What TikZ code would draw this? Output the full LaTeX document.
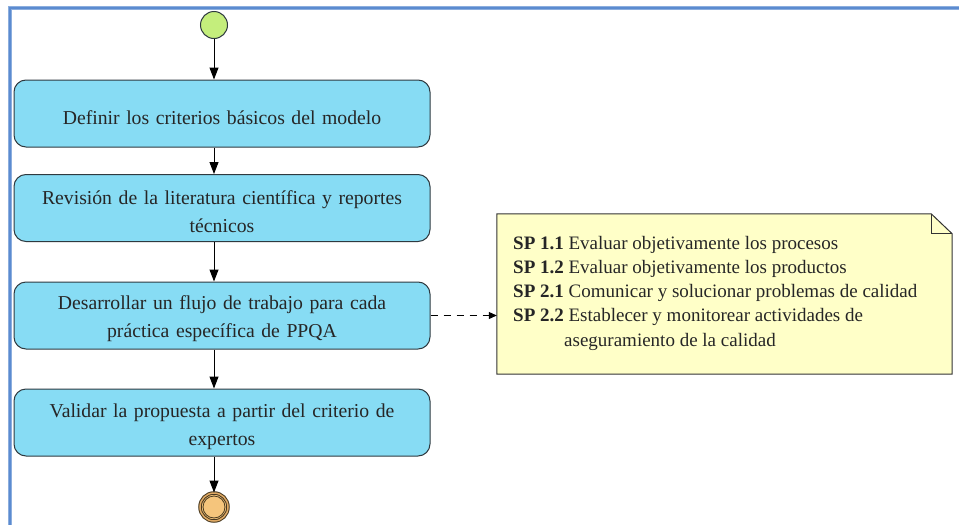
\documentclass[tikz,border=0pt]{standalone}
\usepackage{fontspec}
\setmainfont{Liberation Serif}
\usetikzlibrary{arrows.meta}
\definecolor{frameblue}{HTML}{5B8BD0}
\definecolor{boxfill}{HTML}{87DCF4}
\definecolor{boxline}{HTML}{2F3A40}
\definecolor{startfill}{HTML}{C4EE7C}
\definecolor{endfill}{HTML}{F5C57C}
\definecolor{endline}{HTML}{4A3A20}
\definecolor{notefill}{HTML}{FFFFC8}
\tikzset{
  stepbox/.style={draw=boxline, line width=1pt, fill=boxfill, rounded corners=12pt,
    minimum width=416pt, minimum height=67pt, inner sep=0pt},
  steptext/.style={text width=400pt, align=center, inner sep=0pt,
    font=\fontsize{19.7}{28}\selectfont, text=black!85},
  flow/.style={draw=black, line width=1pt, -{Triangle[length=12pt,width=9pt]}},
  depend/.style={draw=black, line width=1pt, dash pattern=on 7pt off 6pt, -{Triangle[length=8pt,width=7pt]}},
}
\begin{document}
\begin{tikzpicture}[x=1pt,y=-1pt]
\useasboundingbox (0,0) rectangle (959,525);
\draw[frameblue!70, line width=4pt] (10,527) -- (10,8) -- (961,8);
\draw[frameblue, line width=2pt] (10,527) -- (10,8) -- (961,8);

\node[circle, draw=boxline, line width=1pt, fill=startfill, minimum size=27pt, inner sep=0pt] (start) at (214,25) {};
\node[stepbox] (b1) at (222,113.5) {};
\node[stepbox] (b2) at (222,208) {};
\node[stepbox] (b3) at (222,315.5) {};
\node[stepbox] (b4) at (222,422.5) {};
\node[steptext] (t1) at ([yshift=-4pt]b1.center) {Definir los criterios básicos del modelo};
\node[steptext] (t2) at ([yshift=-4pt]b2.center) {Revisión de la literatura científica y reportes\\ técnicos};
\node[steptext] (t3) at ([yshift=-3.5pt]b3.center) {Desarrollar un flujo de trabajo para cada\\ práctica específica de PPQA};
\node[steptext] (t4) at ([yshift=-4.5pt]b4.center) {Validar la propuesta a partir del criterio de\\ expertos};
\node[circle, draw=endline, line width=1pt, fill=endfill, minimum size=28pt, inner sep=0pt, double=endfill!60!brown, double distance=1.5pt] (end) at (214,507) {};
\node[circle, draw=endline, line width=0.8pt, fill=endfill, minimum size=22pt, inner sep=0pt] (endin) at (214,507) {};

\draw[flow] (start) -- (start |- b1.north);
\draw[flow] (start |- b1.south) -- (start |- b2.north);
\draw[flow] (start |- b2.south) -- (start |- b3.north);
\draw[flow] (start |- b3.south) -- (start |- b4.north);
\draw[flow] (start |- b4.south) -- (end.north);

\node[inner sep=0pt, minimum width=455pt, minimum height=160pt] (note) at (724.5,294) {};
\fill[notefill] (note.north west) -- ([xshift=-21pt]note.north east) -- ([yshift=-20pt]note.north east) -- (note.south east) -- (note.south west) -- cycle;
\draw[black!80, line width=1pt] (note.north west) -- ([xshift=-21pt]note.north east) -- ([yshift=-20pt]note.north east) -- (note.south east) -- (note.south west) -- cycle;
\draw[black!80, line width=1pt] ([xshift=-21pt]note.north east) -- ([xshift=-21pt,yshift=-20pt]note.north east) -- ([yshift=-20pt]note.north east);
\node[anchor=north west, align=left, inner sep=0pt, font=\fontsize{19}{24.2}\selectfont, text=black!85] (notetext) at (513,236) {%
\textbf{SP 1.1} Evaluar objetivamente los procesos\\
\textbf{SP 1.2} Evaluar objetivamente los productos\\
\textbf{SP 2.1} Comunicar y solucionar problemas de calidad\\
\textbf{SP 2.2} Establecer y monitorear actividades de\\
\hspace*{51pt}aseguramiento de la calidad};

\draw[depend] (b3.east) -- (note.west |- b3.east);
\end{tikzpicture}
\end{document}
